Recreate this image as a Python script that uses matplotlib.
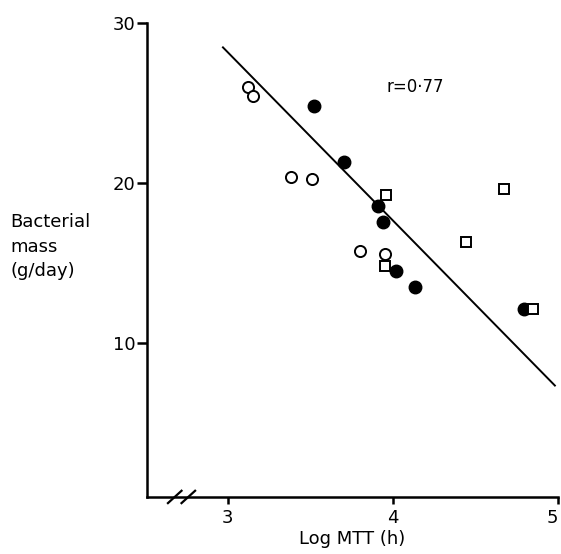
import numpy as np
import matplotlib.pyplot as plt
from matplotlib.lines import Line2D

# Log MTT (h) vs bacterial mass (g/day)
open_x = [3.12, 3.15, 3.38, 3.51, 3.80, 3.95]
open_y = [25.96, 25.42, 20.39, 20.23, 15.75, 15.56]

filled_x = [3.52, 3.70, 3.91, 3.94, 4.02, 4.13, 4.79]
filled_y = [24.81, 21.31, 18.56, 17.52, 14.50, 13.46, 12.13]

square_x = [3.96, 4.44, 3.95, 4.67, 4.85]
square_y = [19.23, 16.33, 14.81, 19.61, 12.13]

fit_x = [2.97, 4.98]
fit_y = [28.46, 7.33]

plt.rcParams['font.family'] = 'DejaVu Sans'

fig = plt.figure(figsize=(5.61, 5.54), dpi=100)
ax = fig.add_axes([0.262, 0.103, 0.733, 0.856])

ax.plot(fit_x, fit_y, color='black', lw=1.4)
ax.plot(open_x, open_y, 'o', ms=8, mfc='white', mec='black', mew=1.4, ls='none')
ax.plot(filled_x, filled_y, 'o', ms=9, mfc='black', mec='black', ls='none')
ax.plot(square_x, square_y, 's', ms=6.5, mfc='white', mec='black', mew=1.4, ls='none')

ax.text(3.96, 26.0, 'r=0·77', fontsize=12, va='center', ha='left')

ax.set_xlim(2.51, 5.0)
ax.set_ylim(0.37, 30)
ax.set_xticks([3, 4, 5])
ax.set_yticks([10, 20, 30])
ax.tick_params(axis='both', direction='out', width=1.8, labelsize=13)
ax.tick_params(axis='y', length=7, pad=1)
ax.tick_params(axis='x', length=5, pad=4)
ax.get_xticklabels()[-1].set_ha('right')

for s in ['top', 'right']:
    ax.spines[s].set_visible(False)
for s in ['left', 'bottom']:
    ax.spines[s].set_linewidth(1.8)

ax.set_xlabel('Log MTT (h)', fontsize=13, labelpad=2)
fig.text(0.018, 0.555, 'Bacterial\nmass\n(g/day)', fontsize=13, ha='left', va='center',
         linespacing=1.45)

# axis break marks
for dx in [0.0, 0.033]:
    ax.add_line(Line2D([0.051 + dx, 0.084 + dx], [-0.013, 0.013], transform=ax.transAxes,
                       color='black', lw=1.6, clip_on=False))

fig.savefig('out.png', dpi=100)
